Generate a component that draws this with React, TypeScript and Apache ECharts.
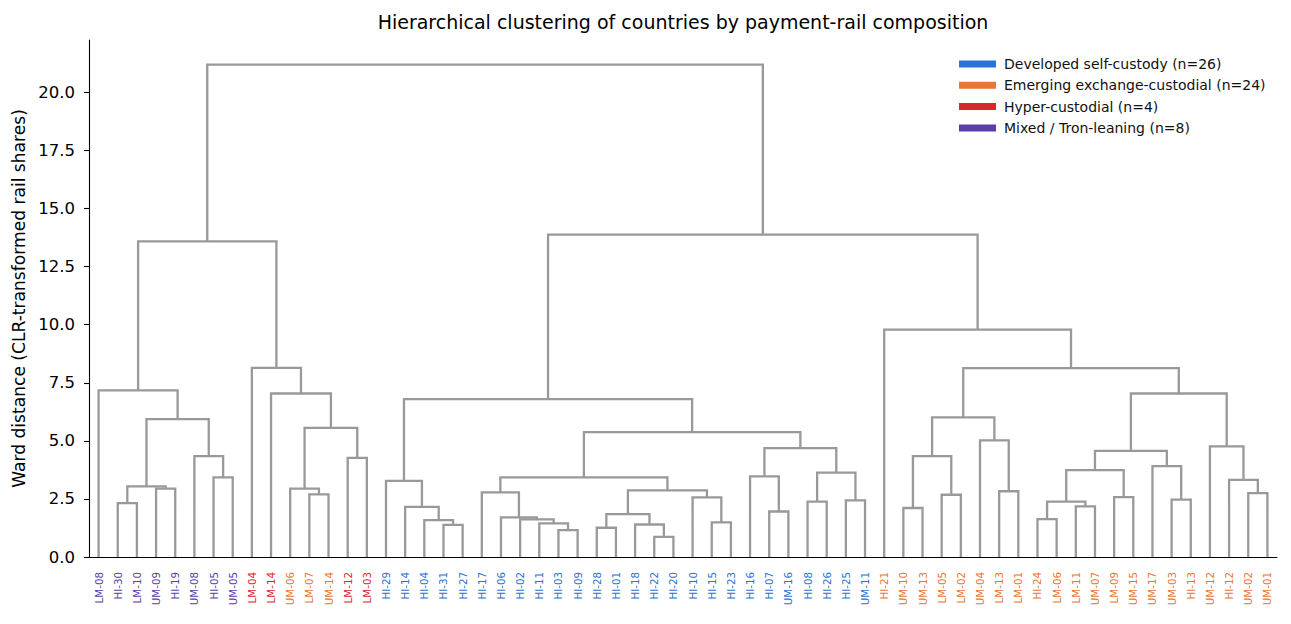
import React, { useEffect, useRef } from 'react';
import * as echarts from 'echarts';

// 叶子节点（按树状图顺序）
const leaves = [
  'LM-08', 'HI-30', 'LM-10', 'UM-09', 'HI-19', 'UM-08', 'HI-05', 'UM-05',
  'LM-04', 'LM-14', 'UM-06', 'LM-07', 'UM-14', 'LM-12', 'LM-03',
  'HI-29', 'HI-14', 'HI-04', 'HI-31', 'HI-27', 'HI-17', 'HI-06', 'HI-02',
  'HI-11', 'HI-03', 'HI-09', 'HI-28', 'HI-01', 'HI-18', 'HI-22', 'HI-20',
  'HI-10', 'HI-15', 'HI-23', 'HI-16', 'HI-07', 'UM-16', 'HI-08', 'HI-26',
  'HI-25', 'UM-11',
  'HI-21', 'UM-10', 'UM-13', 'LM-05', 'LM-02', 'UM-04', 'LM-13', 'LM-01',
  'HI-24', 'LM-06', 'LM-11', 'UM-07', 'LM-09', 'UM-15', 'UM-17', 'UM-03',
  'HI-13', 'UM-12', 'HI-12', 'UM-02', 'UM-01'
];

// 每个叶子所属的组：D 自托管, E 交易所托管, H 高度托管, M 混合
const leafGroups = [
  'M', 'M', 'M', 'M', 'M', 'M', 'M', 'M',
  'H', 'H', 'E', 'E', 'E', 'H', 'H',
  'D', 'D', 'D', 'D', 'D', 'D', 'D', 'D', 'D', 'D', 'D', 'D', 'D',
  'D', 'D', 'D', 'D', 'D', 'D', 'D', 'D', 'D', 'D', 'D', 'D', 'D',
  'E', 'E', 'E', 'E', 'E', 'E', 'E', 'E', 'E', 'E', 'E',
  'E', 'E', 'E', 'E', 'E', 'E', 'E', 'E', 'E', 'E'
];

const groupKeys = ['D', 'E', 'H', 'M'];
const groupNames = [
  'Developed self-custody (n=26)',
  'Emerging exchange-custodial (n=24)',
  'Hyper-custodial (n=4)',
  'Mixed / Tron-leaning (n=8)'
];
const groupColors = ['#2a72d6', '#eb7532', '#d9282c', '#5b3ea8'];

// 合并记录 [左, 右, 高度]；0-61 为叶子，62 起为依次生成的簇
const merges: [number, number, number][] = [
  [1, 2, 2.32], [3, 4, 2.94], [62, 63, 3.04], [6, 7, 3.43], [5, 65, 4.34],
  [64, 66, 5.94], [0, 67, 7.17],
  [11, 12, 2.70], [10, 69, 2.94], [13, 14, 4.27], [70, 71, 5.56], [9, 72, 7.04],
  [8, 73, 8.14], [68, 74, 13.59],
  [18, 19, 1.38], [17, 76, 1.59], [16, 77, 2.16], [15, 78, 3.28],
  [24, 25, 1.16], [23, 80, 1.45], [22, 81, 1.62], [21, 82, 1.71], [20, 83, 2.78],
  [26, 27, 1.26], [29, 30, 0.87], [28, 86, 1.40], [85, 87, 1.85],
  [32, 33, 1.49], [31, 89, 2.57], [88, 90, 2.87], [84, 91, 3.43],
  [35, 36, 1.96], [34, 93, 3.47], [37, 38, 2.38], [39, 40, 2.44], [95, 96, 3.63],
  [94, 97, 4.69], [92, 98, 5.38], [79, 99, 6.80],
  [42, 43, 2.11], [44, 45, 2.68], [101, 102, 4.34], [47, 48, 2.83], [46, 104, 5.02],
  [103, 105, 6.01],
  [49, 50, 1.63], [51, 52, 2.18], [107, 108, 2.38], [53, 54, 2.58], [109, 110, 3.74],
  [56, 57, 2.47], [55, 112, 3.91], [111, 113, 4.57],
  [60, 61, 2.75], [59, 115, 3.32], [58, 116, 4.76], [114, 117, 7.04],
  [106, 118, 8.13], [41, 119, 9.79], [100, 120, 13.88], [75, 121, 21.2]
];

const yTicks = [0, 2.5, 5, 7.5, 10, 12.5, 15, 17.5, 20];

const FONT = 'DejaVu Sans';
const LINK_COLOR = '#999999';

// 计算每个节点的坐标（与 scipy dendrogram 一致：叶子位于 5, 15, 25 ...）
function buildLinks() {
  const xs: number[] = leaves.map((_, i) => i * 10 + 5);
  const ys: number[] = leaves.map(() => 0);
  const links: number[][][] = [];
  merges.forEach(([a, b, h]) => {
    links.push([[xs[a], ys[a]], [xs[a], h], [xs[b], h], [xs[b], ys[b]]]);
    xs.push((xs[a] + xs[b]) / 2);
    ys.push(h);
  });
  return links;
}

const App: React.FC = () => {
  const chartRef = useRef<HTMLDivElement>(null);

  useEffect(() => {
    document.body.style.margin = '0';
    if (!chartRef.current) return;
    const chart = echarts.init(chartRef.current, undefined, { renderer: 'svg' });

    const yMax = 21.2 * 1.05;
    const links = buildLinks();

    const linkSeries = links.map((pts, i) => ({
      name: `link-${i}`,
      type: 'line',
      xAxisIndex: 0,
      yAxisIndex: 0,
      data: pts,
      symbol: 'none',
      silent: true,
      lineStyle: { color: LINK_COLOR, width: 2.3, cap: 'butt', join: 'miter' },
      z: 2
    }));

    const legendSeries = groupNames.map((name, i) => ({
      name,
      type: 'line',
      xAxisIndex: 0,
      yAxisIndex: 0,
      data: [],
      color: groupColors[i],
      itemStyle: { color: groupColors[i] },
      lineStyle: { color: groupColors[i] }
    }));

    chart.setOption({
      animation: false,
      textStyle: { fontFamily: FONT },
      grid: { left: 89, right: 14, top: 40, bottom: 67 },
      graphic: [
        {
          type: 'text',
          x: 683,
          y: 22,
          style: {
            text: 'Hierarchical clustering of countries by payment-rail composition',
            fontFamily: FONT,
            fontSize: 19,
            fill: '#000',
            textAlign: 'center',
            textVerticalAlign: 'middle'
          }
        }
      ],
      legend: {
        data: groupNames,
        orient: 'vertical',
        left: 954,
        top: 51,
        icon: 'rect',
        itemWidth: 37,
        itemHeight: 7,
        itemGap: 5.3,
        selectedMode: false,
        textStyle: { fontFamily: FONT, fontSize: 14, lineHeight: 16, color: '#111', padding: [0, 0, 0, 3] }
      },
      xAxis: [
        {
          type: 'value',
          min: 0,
          max: leaves.length * 10,
          show: false
        },
        {
          type: 'category',
          data: leaves,
          position: 'bottom',
          boundaryGap: true,
          axisLine: { show: true, lineStyle: { color: '#000', width: 1.1 } },
          axisTick: { show: false },
          splitLine: { show: false },
          axisLabel: {
            interval: 0,
            rotate: 90,
            margin: 15,
            fontFamily: FONT,
            fontSize: 10.3,
            color: (_v: string, idx: number) => groupColors[groupKeys.indexOf(leafGroups[idx])]
          }
        }
      ],
      yAxis: {
        type: 'value',
        min: 0,
        max: yMax,
        interval: 2.5,
        name: 'Ward distance (CLR-transformed rail shares)',
        nameLocation: 'middle',
        nameGap: 59,
        nameTextStyle: { fontFamily: FONT, fontSize: 17.1, color: '#000' },
        axisLine: { show: true, lineStyle: { color: '#000', width: 1.1 } },
        axisTick: { show: true, length: 5, customValues: yTicks, lineStyle: { color: '#000', width: 1.1 } },
        splitLine: { show: false },
        axisLabel: {
          customValues: yTicks,
          margin: 14,
          fontFamily: FONT,
          fontSize: 16.5,
          color: '#000',
          formatter: (v: number) => v.toFixed(1)
        }
      },
      series: [...linkSeries, ...legendSeries]
    });

    return () => {
      chart.dispose();
    };
  }, []);

  return <div ref={chartRef} style={{ width: 1291, height: 624 }} />;
};

export default App;
